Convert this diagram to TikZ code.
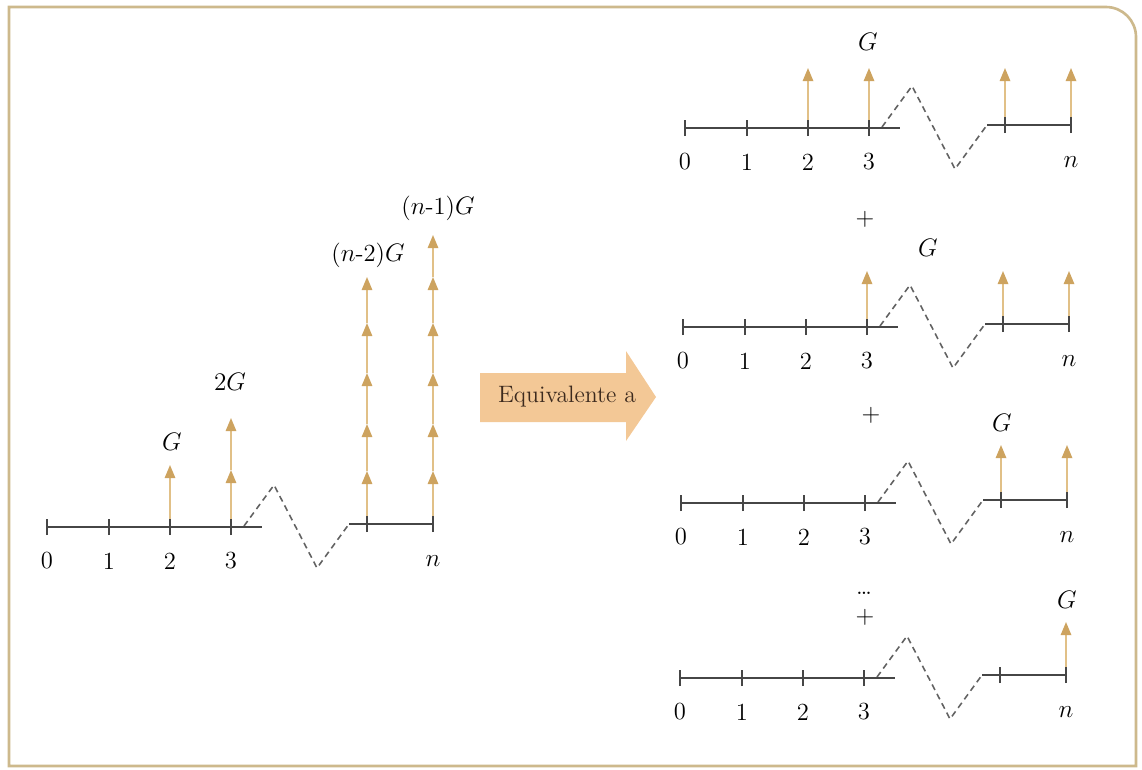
\documentclass[tikz,border=0pt]{standalone}
\usepackage{amsmath}
\usetikzlibrary{arrows.meta}
\usetikzlibrary{calc}

\definecolor{gris}{RGB}{70,70,70}
\definecolor{dorado}{RGB}{225,192,135}
\definecolor{doradoosc}{RGB}{205,163,95}
\definecolor{durazno}{RGB}{243,200,150}
\definecolor{marron}{RGB}{60,42,30}
\definecolor{borde}{RGB}{205,185,140}

\tikzset{
  eje/.style={draw=gris,line width=0.85pt},
  quiebre/.style={draw=gris!85,line width=0.9pt,dash pattern=on 3.5pt off 2.5pt},
  flujo/.style={draw=dorado,line width=0.9pt,-{Triangle[length=7.5pt,width=6pt,color=doradoosc]}},
}

% una linea de tiempo 0,1,2,3 ... n, con origen en (#2,#3)
\newcommand{\linea}[3]{%
  \begin{scope}[shift={(#2,#3)}]
    \draw[quiebre] (197,1) -- (227,42) -- (270,-41) -- (302,3);
    \draw[eje] (0,0) -- (215,0);
    \draw[eje] (302,3) -- (386,3);
    \foreach \k/\x in {0/0,1/62,2/123,3/184} {
      \coordinate (#1-\k) at (\x,0);
      \draw[eje] (\x,-8) -- (\x,8);
      \node (#1-l\k) at (\x,-34) {\k};
    }
    \coordinate (#1-m) at (320,3);
    \coordinate (#1-n) at (386,3);
    \draw[eje] (320,-5) -- (320,11);
    \draw[eje] (386,-5) -- (386,11);
    \node (#1-ln) at (386,-34) {$n$};
  \end{scope}}

\begin{document}
\begin{tikzpicture}[x=0.02cm,y=0.02cm,font=\fontsize{14}{16}\selectfont]
\useasboundingbox (0,0) rectangle (1142,-769);
\draw[borde,line width=1.5pt] (9,-766) -- (9,-7) -- (1106,-7) arc[start angle=90,end angle=0,radius=0.6cm] -- (1136,-766) -- cycle;

% serie gradiente
\linea{i}{47}{-527}
\draw[flujo] ($(i-2)+(0,8)$) -- ($(i-2)+(0,62)$);
\draw[flujo] ($(i-3)+(0,8)$) -- ($(i-3)+(0,57)$);
\draw[flujo] ($(i-3)+(0,57)$) -- ($(i-3)+(0,109)$);
\foreach \a/\b in {8/53,53/100,100/151,151/201,201/247}
  \draw[flujo] ($(i-m)+(0,\a)$) -- ($(i-m)+(0,\b)$);
\foreach \a/\b in {8/53,53/100,100/151,151/201,201/247,247/289}
  \draw[flujo] ($(i-n)+(0,\a)$) -- ($(i-n)+(0,\b)$);
\node (gi1) at ($(i-0)+(125,85)$) {$G$};
\node (gi2) at ($(i-0)+(183,145)$) {$2G$};
\node (gi3) at ($(i-0)+(321,272)$) {($n$-2)$G$};
\node (gi4) at ($(i-0)+(391,319)$) {($n$-1)$G$};

% flecha
\fill[durazno] (480,-373) -- (626,-373) -- (626,-351) -- (656,-397) -- (626,-441) -- (626,-422) -- (480,-422) -- cycle;
\node[text=marron,font=\fontsize{13.5}{15}\selectfont] (equiv) at (567,-397) {Equivalente a};

% series uniformes
\linea{d1}{685}{-128}
\draw[flujo] ($(d1-2)+(0,8)$) -- ($(d1-2)+(0,60)$);
\draw[flujo] ($(d1-3)+(0,8)$) -- ($(d1-3)+(0,60)$);
\draw[flujo] ($(d1-m)+(0,8)$) -- ($(d1-m)+(0,57)$);
\draw[flujo] ($(d1-n)+(0,8)$) -- ($(d1-n)+(0,57)$);
\node (g1) at ($(d1-0)+(183,86)$) {$G$};

\node (mas1) at (865,-219) {+};

\linea{d2}{683}{-327}
\draw[flujo] ($(d2-3)+(0,8)$) -- ($(d2-3)+(0,56)$);
\draw[flujo] ($(d2-m)+(0,8)$) -- ($(d2-m)+(0,53)$);
\draw[flujo] ($(d2-n)+(0,8)$) -- ($(d2-n)+(0,53)$);
\node (g2) at ($(d2-0)+(245,79)$) {$G$};

\node (mas2) at (871,-415) {+};

\linea{d3}{681}{-503}
\draw[flujo] ($(d3-m)+(0,8)$) -- ($(d3-m)+(0,55)$);
\draw[flujo] ($(d3-n)+(0,8)$) -- ($(d3-n)+(0,55)$);
\node (g3) at ($(d3-0)+(321,80)$) {$G$};

\node (puntos) at (864,-593) {\ldots};
\node (mas3) at (865,-617) {+};

\linea{d4}{680}{-678}
\draw[flujo] ($(d4-n)+(0,8)$) -- ($(d4-n)+(0,53)$);
\node (g4) at ($(d4-0)+(387,78)$) {$G$};
\end{tikzpicture}
\end{document}
